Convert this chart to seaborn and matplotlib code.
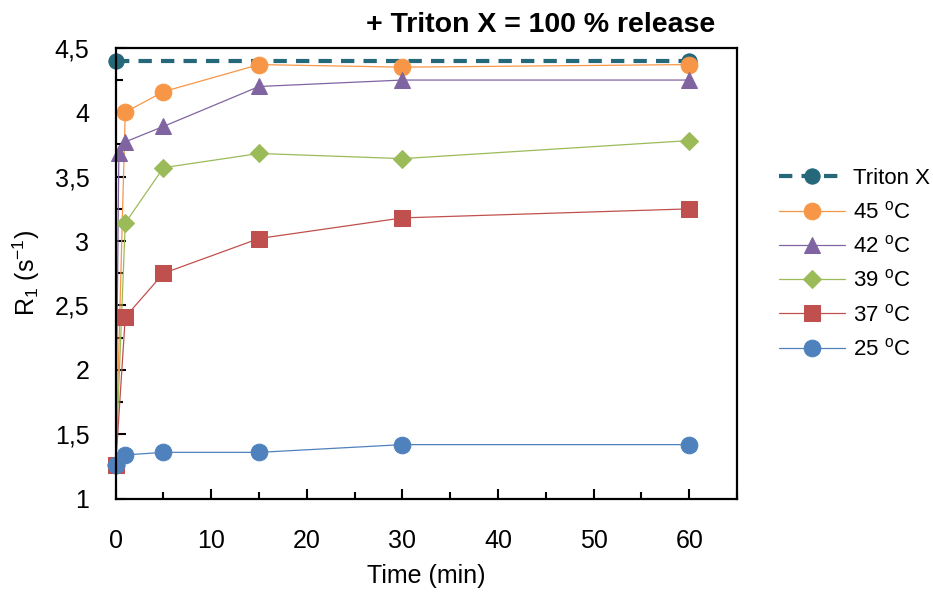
import matplotlib
matplotlib.use("Agg")
import matplotlib.pyplot as plt
from matplotlib.ticker import MultipleLocator, FuncFormatter
import seaborn as sns
import pandas as pd

# data
time_triton = [0, 60]
r1_triton = [4.40, 4.40]

time_45 = [0, 1, 5, 15, 30, 60]
r1_45 = [1.26, 4.00, 4.16, 4.37, 4.35, 4.37]

time_42 = [0, 0.33, 1, 5, 15, 30, 60]
r1_42 = [1.26, 3.68, 3.77, 3.89, 4.20, 4.25, 4.25]

time_39 = [0, 1, 5, 15, 30, 60]
r1_39 = [1.26, 3.14, 3.57, 3.68, 3.64, 3.78]

time_37 = [0, 1, 5, 15, 30, 60]
r1_37 = [1.26, 2.41, 2.75, 3.02, 3.18, 3.25]

time_25 = [0, 1, 5, 15, 30, 60]
r1_25 = [1.26, 1.34, 1.36, 1.36, 1.42, 1.42]

sns.set_style("ticks")
plt.rcParams["font.family"] = ["Liberation Sans", "DejaVu Sans"]
plt.rcParams["mathtext.fontset"] = "custom"
plt.rcParams["mathtext.rm"] = "Liberation Sans"
plt.rcParams["text.color"] = "black"
plt.rcParams["axes.labelcolor"] = "black"
plt.rcParams["xtick.color"] = "black"
plt.rcParams["ytick.color"] = "black"

fig = plt.figure(figsize=(9.33, 5.98), dpi=100)
ax = fig.add_axes([0.124, 0.166, 0.666, 0.754])

series = [
    (r"Triton X", time_triton, r1_triton, "#24687A", "o", 11, (0, (3.2, 2.2)), 3.0),
    (r"45 $^\mathregular{o}$C", time_45, r1_45, "#F79646", "o", 12, "-", 0.9),
    (r"42 $^\mathregular{o}$C", time_42, r1_42, "#8064A2", "^", 12, "-", 0.9),
    (r"39 $^\mathregular{o}$C", time_39, r1_39, "#9BBB59", "D", 9, "-", 0.9),
    (r"37 $^\mathregular{o}$C", time_37, r1_37, "#C0504D", "s", 11, "-", 0.9),
    (r"25 $^\mathregular{o}$C", time_25, r1_25, "#4F81BD", "o", 12, "-", 0.9),
]

for label, t, r, color, marker, ms, ls, lw in series:
    df = pd.DataFrame({"time": t, "r1": r})
    sns.lineplot(data=df, x="time", y="r1", ax=ax, color=color, marker=marker,
                 markersize=ms, markeredgecolor=color, linestyle=ls,
                 linewidth=lw, label=label, clip_on=False)

ax.set_xlim(0, 65)
ax.set_ylim(1, 4.5)
ax.xaxis.set_major_locator(MultipleLocator(10))
ax.xaxis.set_minor_locator(MultipleLocator(5))
ax.yaxis.set_major_locator(MultipleLocator(0.5))
ax.yaxis.set_minor_locator(MultipleLocator(0.25))
ax.yaxis.set_major_formatter(FuncFormatter(lambda v, p: f"{v:g}".replace(".", ",")))
ax.tick_params(which="both", direction="in", width=1.5, labelsize=18)
ax.tick_params(axis="x", pad=22)
ax.tick_params(axis="y", pad=19)
ax.tick_params(which="major", length=7)
ax.tick_params(which="minor", length=5)
for s in ax.spines.values():
    s.set_linewidth(1.6)
    s.set_color("black")

ax.set_xlabel("Time (min)", fontsize=18, labelpad=8)
ax.set_ylabel(r"R$_\mathregular{1}$ (s$^\mathregular{-1}$)", fontsize=18, labelpad=9)

fig.text(0.579, 0.958, "+ Triton X = 100 % release", ha="center", va="center",
         fontsize=20.5, fontweight="bold")

ax.legend(loc="center left", bbox_to_anchor=(1.035, 0.52), frameon=False,
          fontsize=16, handlelength=3.0, labelspacing=0.55, handletextpad=0.35)

fig.savefig("out.png", dpi=100)
